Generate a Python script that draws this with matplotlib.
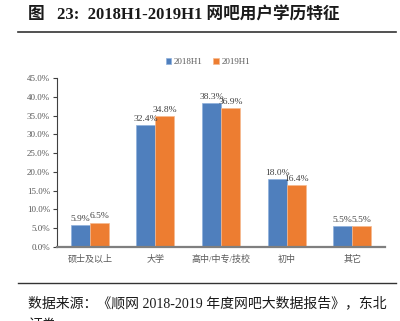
import matplotlib.pyplot as plt
import numpy as np
from matplotlib.lines import Line2D

plt.rcParams['font.family'] = ['Liberation Serif', 'Noto Sans CJK SC', 'DejaVu Sans']

categories = ['硕士及以上', '大学', '高中/中专/技校', '初中', '其它']
values_2018 = [5.9, 32.4, 38.3, 18.0, 5.5]
values_2019 = [6.5, 34.8, 36.9, 16.4, 5.5]
series_names = ['2018H1', '2019H1']
yticks = np.arange(0, 50, 5)

blue = '#4F7FBD'
orange = '#ED7D31'
label_gray = '#595959'

fig = plt.figure(figsize=(4.0, 3.21), dpi=100)

# title and rules
fig.text(0.07, 0.950, '图   23:  2018H1-2019H1 网吧用户学历特征', fontsize=12,
         fontweight='bold', va='center', ha='left', color='#1a1a1a')
fig.add_artist(Line2D([0.045, 0.99], [0.900, 0.900], color='#333333', lw=1.2))
fig.add_artist(Line2D([0.045, 0.99], [0.118, 0.118], color='#333333', lw=1.0))
fig.text(0.07, 0.075, '数据来源：《顺网 2018-2019 年度网吧大数据报告》，东北\n证券',
         fontsize=10, va='top', ha='left', color='#1a1a1a', linespacing=1.8)

ax = fig.add_axes([0.1425, 0.2305, 0.82, 0.5265])
x = np.arange(len(categories))
w = 0.29
b1 = ax.bar(x - w / 2, values_2018, w, color=blue, edgecolor='#8fb0dc', linewidth=0.5,
            label=series_names[0])
b2 = ax.bar(x + w / 2, values_2019, w, color=orange, edgecolor='#f6b98f', linewidth=0.5,
            label=series_names[1])

for bars, vals in ((b1, values_2018), (b2, values_2019)):
    for bar, v in zip(bars, vals):
        ax.text(bar.get_x() + bar.get_width() / 2, v + 0.6, f'{v:.1f}%',
                ha='center', va='bottom', fontsize=6.8, color='#404040')

ax.set_xlim(-0.5, 4.5)
ax.set_ylim(0, 45)
ax.set_yticks(yticks)
ax.set_yticklabels([f'{t:.1f}%' for t in yticks], fontsize=6.5, color=label_gray)
ax.set_xticks(x)
ax.set_xticklabels(categories, fontsize=6.5, color=label_gray)
ax.tick_params(axis='x', length=0, pad=6)
ax.tick_params(axis='y', length=3, width=0.8, color='#404040', pad=2)
ax.spines['top'].set_visible(False)
ax.spines['right'].set_visible(False)
ax.spines['left'].set_color('#404040')
ax.spines['left'].set_linewidth(0.8)
ax.spines['bottom'].set_color('#7f7f7f')
ax.spines['bottom'].set_linewidth(1.6)

ax.legend(loc='lower center', bbox_to_anchor=(0.46, 1.02), ncol=2, frameon=False,
          fontsize=6.5, handlelength=0.6, handleheight=0.6, handletextpad=0.3,
          columnspacing=1.2, labelcolor=label_gray)

fig.savefig('out.png', dpi=100)
